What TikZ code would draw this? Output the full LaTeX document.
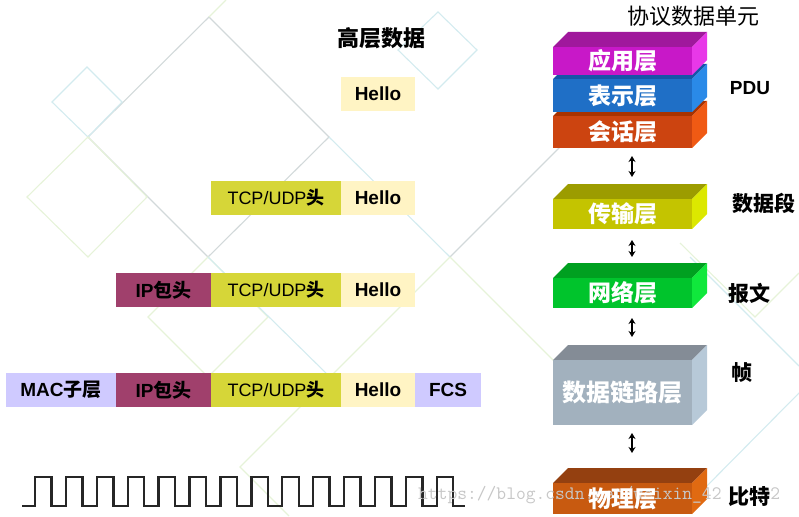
\documentclass[tikz,border=0pt]{standalone}
\usepackage{fontspec}
\setmainfont{Liberation Sans}
\newfontfamily\cjk{Noto Sans CJK SC}
\usetikzlibrary{arrows.meta}

\definecolor{bggray}{HTML}{D2D9DA}
\definecolor{bgcyan}{HTML}{D3EBEF}
\definecolor{bggreen}{HTML}{E6F3D9}
\definecolor{macc}{HTML}{CFCAFF}
\definecolor{ipc}{HTML}{A0406C}
\definecolor{tcpc}{HTML}{D6D638}
\definecolor{helloc}{HTML}{FFF4C4}
\definecolor{appF}{HTML}{C818C8}\definecolor{appT}{HTML}{A0189C}\definecolor{appS}{HTML}{E838E8}
\definecolor{preF}{HTML}{1F6FC6}\definecolor{preT}{HTML}{1655A8}\definecolor{preS}{HTML}{2A8AE8}
\definecolor{sesF}{HTML}{CC4410}\definecolor{sesT}{HTML}{A83200}\definecolor{sesS}{HTML}{F05A14}
\definecolor{traF}{HTML}{C4C400}\definecolor{traT}{HTML}{9C9C00}\definecolor{traS}{HTML}{DCE800}
\definecolor{netF}{HTML}{00C42C}\definecolor{netT}{HTML}{00A020}\definecolor{netS}{HTML}{10E83C}
\definecolor{dlF}{HTML}{A2B1BE}\definecolor{dlT}{HTML}{848C96}\definecolor{dlS}{HTML}{B7C9D8}
\definecolor{phyF}{HTML}{C85A10}\definecolor{phyT}{HTML}{944010}\definecolor{phyS}{HTML}{E06A12}

\tikzset{
  cell/.style={inner sep=0pt, outer sep=0pt, minimum height=34pt, anchor=north west,
    font=\fontsize{19}{19}\selectfont\bfseries, text=black},
  bgline/.style={line width=1.1pt},
  unitlabel/.style={font=\cjk\bfseries\fontsize{21}{21}\selectfont, text=black},
  updown/.style={{Stealth[length=6pt,width=7pt]}-{Stealth[length=6pt,width=7pt]}, line width=1.8pt},
  wave/.style={line width=2.4pt, draw=black!85, line join=miter},
}

% #1 name, #2 y of front top, #3 front height, #4 front, #5 top, #6 side, #7 label, #8 font size
\newcommand{\osibox}[8]{%
  \fill[#5] (553,#2) -- (568,{#2-15}) -- (707,{#2-15}) -- (692,#2) -- cycle;
  \fill[#6] (692,#2) -- (707,{#2-15}) -- (707,{#2+#3-15}) -- (692,{#2+#3}) -- cycle;
  \node[fill=#4, inner sep=0pt, outer sep=0pt, minimum width=139pt, minimum height=#3pt,
    anchor=north west, text=white, font=\cjk\bfseries\fontsize{#8}{#8}\selectfont] (#1) at (553,#2) {#7};
}

\begin{document}
\begin{tikzpicture}[x=1pt,y=-1pt]
\useasboundingbox (0,0) rectangle (799,516);

% background decoration
\draw[bgline,bggray] (88,137) -- (209,17) -- (329,137) -- (208,257) -- cycle;
\draw[bgline,bgcyan] (87,67) -- (122,102) -- (88,137) -- (52,102) -- cycle;
\draw[bgline,bgcyan] (438,12) -- (477,50) -- (438,89) -- (398,50) -- cycle;
\draw[bgline,bggreen] (88,137) -- (147,197) -- (88,257) -- (27,197) -- cycle;
\draw[bgline,bggreen] (208,257) -- (268,317) -- (208,377) -- (148,317) -- cycle;
\draw[bgline,bgcyan] (329,137) -- (450,257);
\draw[bgline,bgcyan] (208,257) -- (330,377);
\draw[bgline,bggray] (450,257) -- (570,137);
\draw[bgline,bggreen] (450,257) -- (240,467) -- (289,516);
\draw[bgline,bggreen] (450,257) -- (570,377);
\draw[bgline,bggreen] (209,17) -- (226,0);
\draw[bgline,bggreen] (680,243) -- (755,317) -- (799,273);
\draw[bgline,bgcyan] (690,257) -- (799,366);
\draw[bgline,bgcyan] (799,393) -- (690,503);

% titles
\node[font=\cjk\bfseries\fontsize{22}{22}\selectfont] (title) at (381,38) {高层数据};
\node[font=\cjk\fontsize{22}{22}\selectfont] (pdutitle) at (693,16) {协议数据单元};

% packet rows
\node[cell, fill=helloc, minimum width=74pt] (hello1) at (341,77) {Hello};

\node[cell, fill=tcpc, minimum width=130pt, font=\fontsize{18}{18}\selectfont] (tcp2) at (211,181) {TCP/UDP{\cjk\bfseries 头}};
\node[cell, fill=helloc, minimum width=74pt] (hello2) at (341,181) {Hello};

\node[cell, fill=ipc, minimum width=95pt] (ip3) at (116,273) {IP{\cjk 包头}};
\node[cell, fill=tcpc, minimum width=130pt, font=\fontsize{18}{18}\selectfont] (tcp3) at (211,273) {TCP/UDP{\cjk\bfseries 头}};
\node[cell, fill=helloc, minimum width=74pt] (hello3) at (341,273) {Hello};

\node[cell, fill=macc, minimum width=110pt] (mac4) at (6,373) {MAC{\cjk 子层}};
\node[cell, fill=ipc, minimum width=95pt] (ip4) at (116,373) {IP{\cjk 包头}};
\node[cell, fill=tcpc, minimum width=130pt, font=\fontsize{18}{18}\selectfont] (tcp4) at (211,373) {TCP/UDP{\cjk\bfseries 头}};
\node[cell, fill=helloc, minimum width=74pt] (hello4) at (341,373) {Hello};
\node[cell, fill=macc, minimum width=66pt] (fcs4) at (415,373) {FCS};

% square wave
\draw[wave] (22,506) foreach \i in {0,...,13} {
  -- ({35+30.9*\i},506) -- ({35+30.9*\i},477) -- ({51.5+30.9*\i},477) -- ({51.5+30.9*\i},506) } -- (465,506);

% OSI layers (drawn bottom-up where stacked)
\osibox{session}{116}{32}{sesF}{sesT}{sesS}{会话层}{23}
\osibox{present}{79}{33}{preF}{preT}{preS}{表示层}{23}
\osibox{app}{47}{28}{appF}{appT}{appS}{应用层}{23}
\osibox{trans}{199}{30}{traF}{traT}{traS}{传输层}{23}
\osibox{net}{278}{30}{netF}{netT}{netS}{网络层}{23}
\osibox{dl}{360}{65}{dlF}{dlT}{dlS}{数据链路层}{24}
\osibox{phy}{483}{31}{phyF}{phyT}{phyS}{}{23}

% watermark
\node[anchor=west, inner sep=0pt, text=black!22, font=\ttfamily\fontsize{19}{19}\selectfont] (wm) at (418,495)
  {https://blog.csdn.net/weixin\_42\phantom{0000}82};
\node[text=white, font=\cjk\bfseries\fontsize{23}{23}\selectfont] (phylabel) at (phy.center) {物理层};

% arrows between layers
\draw[updown] ([xshift=9.5pt,yshift=-8pt]session.south) -- ([xshift=9.5pt,yshift=22pt]trans.north);
\draw[updown] ([xshift=9.5pt,yshift=-11pt]trans.south) -- ([xshift=9.5pt,yshift=21pt]net.north);
\draw[updown] ([xshift=9.5pt,yshift=-10pt]net.south) -- ([xshift=9.5pt,yshift=23pt]dl.north);
\draw[updown] ([xshift=9.5pt,yshift=-8pt]dl.south) -- ([xshift=9.5pt,yshift=30pt]phy.north);

% unit labels
\node[font=\bfseries\fontsize{19}{19}\selectfont] (pdu) at (750,88) {PDU};
\node[unitlabel] (seg) at (764,203) {数据段};
\node[unitlabel] (pkt) at (749,293) {报文};
\node[unitlabel] (frame) at (742,373) {帧};
\node[unitlabel] (bits) at (749,497) {比特};
\end{tikzpicture}
\end{document}
